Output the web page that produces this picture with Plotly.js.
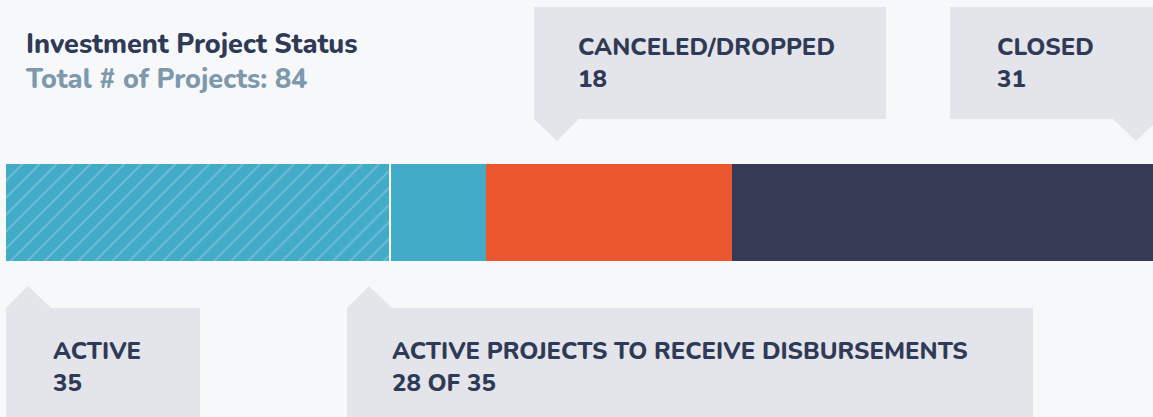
<!DOCTYPE html>
<html>
<head>
<meta charset="utf-8">
<script src="https://cdn.plot.ly/plotly-3.0.1.min.js"></script>
<style>
  html, body { margin: 0; padding: 0; background: #f7f8fa; }
  #chart { width: 1153px; height: 417px; }
</style>
</head>
<body>
<div id="chart"></div>
<script>
// ---- data ----
const segments = ['Active (to receive disbursements)', 'Active (other)', 'Canceled/Dropped', 'Closed'];
const segmentValues = [28, 7, 18, 31];
const segmentColors = ['#42abc8', '#42abc8', '#eb562e', '#363a55'];
const calloutLabels = ['ACTIVE', 'ACTIVE PROJECTS TO RECEIVE DISBURSEMENTS', 'CANCELED/DROPPED', 'CLOSED'];

const disbursing = segmentValues[0];
const activeTotal = segmentValues[0] + segmentValues[1];
const canceled = segmentValues[2];
const closed = segmentValues[3];
const total = segmentValues.reduce((a, b) => a + b, 0);

// ---- page geometry (pixels) ----
const W = 1153, H = 417;
const px = x => x / W;
const py = y => 1 - y / H;
const FONT = 'Nunito, "Open Sans", Lato, sans-serif';
const DARK = '#2f3a56';
const SUB = '#7e98ac';
const BOX = '#e4e5ea';

const traces = segments.map((name, i) => ({
  type: 'bar',
  orientation: 'h',
  name: name,
  y: [0],
  x: [segmentValues[i]],
  marker: Object.assign({ color: segmentColors[i], line: { width: 0 } },
    i === 0 ? { pattern: { shape: '/', bgcolor: segmentColors[i], fgcolor: '#ffffff', fgopacity: 0.3, size: 12, solidity: 0.12 } } : {}),
  hoverinfo: 'skip'
}));

function boxPath(pts) {
  return 'M ' + pts.map(p => px(p[0]) + ',' + py(p[1])).join(' L ') + ' Z';
}

const shapes = [
  { type: 'path', xref: 'paper', yref: 'paper', fillcolor: BOX, line: { width: 0 }, layer: 'below',
    path: boxPath([[534, 7], [886, 7], [886, 119], [579, 119], [557, 141], [534, 119]]) },
  { type: 'path', xref: 'paper', yref: 'paper', fillcolor: BOX, line: { width: 0 }, layer: 'below',
    path: boxPath([[950, 7], [1153, 7], [1153, 119], [1159, 119], [1136, 141], [1113, 119], [950, 119]]) },
  { type: 'path', xref: 'paper', yref: 'paper', fillcolor: BOX, line: { width: 0 }, layer: 'below',
    path: boxPath([[6, 308], [28, 286], [51, 308], [200, 308], [200, 417], [6, 417]]) },
  { type: 'path', xref: 'paper', yref: 'paper', fillcolor: BOX, line: { width: 0 }, layer: 'below',
    path: boxPath([[347, 308], [369, 286], [392, 308], [1033, 308], [1033, 417], [347, 417]]) },
  { type: 'line', xref: 'x', yref: 'y', x0: disbursing + 0.03, x1: disbursing + 0.03, y0: -0.5, y1: 0.5,
    line: { color: '#ffffff', width: 2 } }
];

function txt(text, x, y, size, color) {
  return { text: text, xref: 'paper', yref: 'paper', x: px(x - 1), y: py(y), xanchor: 'left', yanchor: 'middle',
    showarrow: false, align: 'left', borderpad: 0, borderwidth: 0,
    font: { family: FONT, size: size, color: color, weight: 800 } };
}

const annotations = [
  txt('Investment Project Status<br><span style="color:' + SUB + '">Total # of Projects: ' + total + '</span>', 26, 62.5, 27, DARK),
  txt(calloutLabels[2], 579, 47, 24, DARK),
  txt(String(canceled), 579, 79, 24, DARK),
  txt(calloutLabels[3], 998, 47, 24, DARK),
  txt(String(closed), 998, 79, 24, DARK),
  txt(calloutLabels[0], 54, 351, 24, DARK),
  txt(String(activeTotal), 54, 383, 24, DARK),
  txt(calloutLabels[1], 393, 351, 24, DARK),
  txt(disbursing + ' OF ' + activeTotal, 393, 383, 24, DARK)
];

const scale = 13.70; // px per project
const layout = {
  width: W, height: H,
  margin: { l: 0, r: 0, t: 0, b: 0, pad: 0 },
  paper_bgcolor: '#f7f8fa',
  plot_bgcolor: '#f7f8fa',
  barmode: 'stack',
  bargap: 0,
  showlegend: false,
  xaxis: { range: [-6 / scale, (W - 6) / scale], visible: false, fixedrange: true },
  yaxis: { range: [-2.108, 2.191], visible: false, fixedrange: true },
  shapes: shapes,
  annotations: annotations,
  hovermode: false
};

Plotly.newPlot('chart', traces, layout, { displayModeBar: false, staticPlot: true });
</script>
</body>
</html>
